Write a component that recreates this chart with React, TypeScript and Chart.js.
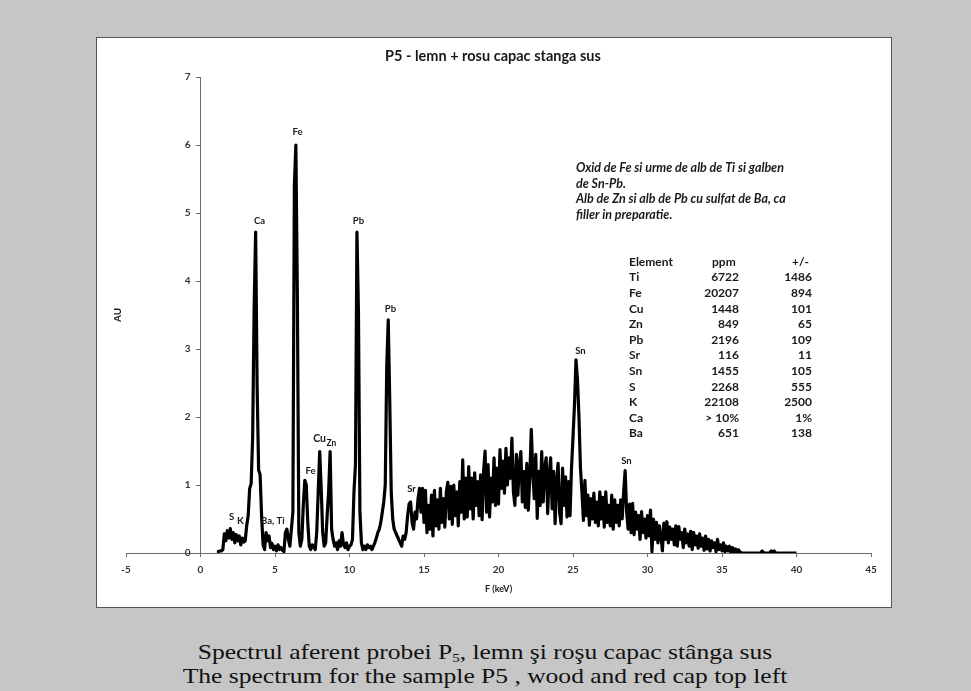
import React, { useEffect, useRef } from "react";
import { Chart, registerables } from "chart.js";

Chart.register(...registerables);

// Energy grid of the spectrum (keV): first channel and channel width
const E_START = 1.1;
const E_STEP = 0.1;

// Intensity (AU) per channel, one row per keV
const counts: number[] = [
  0.02, 0.02, 0.03, 0.03, 0.05, 0.28, 0.18, 0.33, 0.22, // 1.1-1.9
  0.36, 0.2, 0.3, 0.15, 0.27, 0.18, 0.25, 0.12, 0.22, 0.16, // 2
  0.18, 0.4, 0.55, 0.95, 1.02, 1.7, 3.6, 4.72, 2.45, 1.22, // 3
  1.15, 0.55, 0.12, 0.05, 0.3, 0.18, 0.25, 0.08, 0.14, 0.05, // 4
  0.1, 0.03, 0.12, 0.05, 0.08, 0.04, 0.02, 0.3, 0.35, 0.2, // 5
  0.1, 0.35, 0.6, 5.4, 6.0, 3.8, 0.3, 0.1, 0.2, 0.7, // 6
  1.07, 1.0, 0.45, 0.1, 0.05, 0.12, 0.1, 0.05, 0.3, 0.9, // 7
  1.49, 0.95, 0.3, 0.1, 0.15, 0.55, 0.9, 1.49, 0.35, 0.2, // 8
  0.1, 0.15, 0.05, 0.18, 0.1, 0.3, 0.12, 0.08, 0.15, 0.05, // 9
  0.1, 0.12, 0.2, 0.9, 1.3, 4.72, 3.55, 0.6, 0.15, 0.05, // 10
  0.1, 0.05, 0.12, 0.08, 0.1, 0.05, 0.1, 0.15, 0.22, 0.3, // 11
  0.35, 0.45, 0.6, 0.75, 1.0, 2.75, 3.43, 2.25, 0.9, 0.5, // 12
  0.35, 0.3, 0.25, 0.2, 0.15, 0.1, 0.25, 0.2, 0.3, 0.55, // 13
  0.72, 0.75, 0.45, 0.35, 0.6, 0.5, 0.8, 0.95, 0.6, 0.95, // 14
  0.45, 0.92, 0.3, 0.7, 0.35, 0.85, 0.25, 0.92, 0.4, 0.78, // 15
  0.35, 0.95, 0.45, 0.8, 0.38, 0.9, 1.04, 0.5, 0.98, 0.42, // 16
  1.0, 0.55, 0.9, 0.4, 1.05, 0.6, 1.37, 0.5, 1.1, 0.53, // 17
  1.27, 0.65, 1.1, 0.5, 1.18, 0.7, 1.05, 0.55, 1.15, 0.49, // 18
  1.2, 1.5, 0.6, 1.3, 0.53, 1.1, 0.75, 1.4, 0.7, 1.25, // 19
  0.72, 1.52, 0.95, 1.35, 0.88, 1.54, 1.0, 1.4, 1.1, 1.69, // 20
  0.9, 0.7, 1.45, 0.85, 1.3, 1.49, 0.75, 1.2, 0.67, 1.32, // 21
  0.63, 1.1, 1.82, 1.2, 0.8, 1.45, 0.51, 1.2, 0.7, 1.49, // 22
  0.75, 1.25, 1.4, 0.58, 1.15, 1.4, 0.65, 1.2, 0.43, 1.05, // 23
  1.32, 0.6, 0.43, 1.25, 0.7, 1.12, 0.53, 1.05, 0.55, 1.25, // 24
  1.7, 2.18, 2.84, 2.55, 2.0, 1.25, 0.9, 0.48, 1.07, 0.55, // 25
  0.85, 0.41, 0.8, 0.5, 0.88, 0.45, 0.75, 0.4, 0.9, 0.5, // 26
  0.82, 0.38, 0.9, 0.45, 0.7, 0.4, 0.85, 0.35, 0.78, 0.45, // 27
  0.7, 0.4, 0.78, 0.5, 0.9, 1.21, 0.6, 0.35, 0.72, 0.3, // 28
  0.73, 0.27, 0.6, 0.35, 0.55, 0.2, 0.61, 0.3, 0.5, 0.22, // 29
  0.55, 0.25, 0.63, 0.02, 0.5, 0.2, 0.45, 0.15, 0.4, 0.25, // 30
  0.03, 0.44, 0.2, 0.46, 0.15, 0.38, 0.2, 0.35, 0.12, 0.4, // 31
  0.1, 0.39, 0.2, 0.3, 0.08, 0.35, 0.15, 0.28, 0.1, 0.32, // 32
  0.05, 0.3, 0.12, 0.25, 0.07, 0.28, 0.1, 0.22, 0.04, 0.25, // 33
  0.06, 0.2, 0.03, 0.18, 0.08, 0.15, 0.02, 0.2, 0.05, 0.12, // 34
  0.03, 0.15, 0.02, 0.1, 0.03, 0.1, 0.01, 0.08, 0.02, 0.06, // 35
  0.01, 0.05, 0.02, 0, 0, 0, 0, 0, 0, 0, // 36
  0, 0, 0, 0, 0, 0, 0, 0.03, 0, 0, // 37
  0, 0, 0, 0.03, 0, 0.03, 0, 0, 0, 0, // 38
  0, 0, 0, 0, 0, 0, 0, 0, 0, 0, // 39
  0, // 40
];

// Axis ranges
const X_MIN = -5;
const X_MAX = 45;
const X_STEP = 5;
const Y_MIN = 0;
const Y_MAX = 7;
const Y_STEP = 1;

// Peak labels (element name, energy keV, height AU)
const peakNames = ["S", "K", "Ba, Ti", "Ca", "Fe", "Fe", "Cu", "Zn", "Pb", "Pb", "Sr", "Sn", "Sn"];
const peakKeV = [2.08, 2.68, 4.85, 3.96, 6.51, 7.38, 7.99, 8.79, 10.6, 12.75, 14.16, 25.5, 28.59];
const peakAU = [0.53, 0.48, 0.47, 4.88, 6.19, 1.21, 1.68, 1.62, 4.88, 3.59, 0.94, 2.97, 1.35];

// Table of concentrations
const tableElements = ["Ti", "Fe", "Cu", "Zn", "Pb", "Sr", "Sn", "S", "K", "Ca", "Ba"];
const tablePpm = ["6722", "20207", "1448", "849", "2196", "116", "1455", "2268", "22108", "> 10%", "651"];
const tableErr = ["1486", "894", "101", "65", "109", "11", "105", "555", "2500", "1%", "138"];

const TITLE = "P5 - lemn + rosu capac stanga sus";
const X_TITLE = "F (keV)";
const Y_TITLE = "AU";
const noteLines = [
  "Oxid de Fe si urme de alb de Ti si galben",
  "de Sn-Pb.",
  "Alb de Zn si alb de Pb cu sulfat de Ba, ca",
  "filler in preparatie.",
];

const FONT = "Lato, 'Liberation Sans', sans-serif";
const TEXT = "#1a1a1a";
const AXIS = "#6a6a6a";

const textPlugin = {
  id: "spectrumTexts",
  afterDraw(chart: any) {
    const ctx: CanvasRenderingContext2D = chart.ctx;
    const xs = chart.scales.x;
    const ys = chart.scales.y;
    ctx.save();
    ctx.fillStyle = TEXT;

    // Title
    ctx.font = `bold 14.5px ${FONT}`;
    ctx.textAlign = "center";
    ctx.textBaseline = "middle";
    ctx.fillText(TITLE, 396, 18, 224);

    // Y axis tick labels, left of the axis drawn at x = 0
    ctx.font = `bold 10px ${FONT}`;
    ctx.textAlign = "right";
    ctx.fillStyle = "#333";
    const axisX = xs.getPixelForValue(0);
    ys.ticks.forEach((t: any) => {
      ctx.fillText(String(t.value), axisX - 10, ys.getPixelForValue(t.value));
    });
    ctx.fillStyle = TEXT;

    // Y axis title
    ctx.save();
    ctx.translate(21, (ys.top + ys.bottom) / 2);
    ctx.rotate(-Math.PI / 2);
    ctx.textAlign = "center";
    ctx.font = `bold 10px ${FONT}`;
    ctx.fillText(Y_TITLE, 0, 0);
    ctx.restore();

    // Peak labels
    peakNames.forEach((name, i) => {
      let size = 9.5;
      if (name === "Cu") size = 10.5;
      if (name === "Zn") size = 8.5;
      if (name === "K") size = 10;
      ctx.font = `bold ${size}px ${FONT}`;
      ctx.textAlign = "center";
      ctx.fillText(name, xs.getPixelForValue(peakKeV[i]), ys.getPixelForValue(peakAU[i]));
    });

    // Note
    ctx.font = `italic bold 12.5px ${FONT}`;
    ctx.textAlign = "left";
    noteLines.forEach((line, i) => {
      const w = ctx.measureText(line).width;
      const maxW = i === 0 || i === 2 ? 212 : w;
      ctx.fillText(line, 479, 130 + 15.7 * i, Math.min(w, maxW));
    });

    // Table
    ctx.font = `bold 12px ${FONT}`;
    const rowY = (i: number) => 224 + 15.6 * i;
    ctx.textAlign = "left";
    ctx.fillText("Element", 532, rowY(0));
    ctx.fillText("ppm", 615, rowY(0));
    ctx.fillText("+/-", 695, rowY(0));
    tableElements.forEach((el, i) => {
      ctx.textAlign = "left";
      ctx.fillText(el, 532, rowY(i + 1));
      ctx.textAlign = "right";
      ctx.fillText(tablePpm[i], 642, rowY(i + 1));
      ctx.fillText(tableErr[i], 715, rowY(i + 1));
    });

    ctx.restore();
  },
};

function SpectrumChart() {
  const ref = useRef<HTMLCanvasElement | null>(null);
  useEffect(() => {
    if (!ref.current) return;
    const points = counts.map((v, i) => ({ x: +(E_START + i * E_STEP).toFixed(2), y: v }));
    const chart = new Chart(ref.current, {
      type: "line",
      data: {
        datasets: [
          {
            data: points,
            borderColor: "#000000",
            borderWidth: 3.2,
            borderJoinStyle: "round",
            pointRadius: 0,
            tension: 0,
            fill: false,
          },
        ],
      },
      options: {
        animation: false,
        responsive: false,
        maintainAspectRatio: false,
        events: [],
        layout: { padding: { left: 29, right: 20, top: 39, bottom: 9 } },
        plugins: {
          legend: { display: false },
          tooltip: { enabled: false },
          title: { display: false },
        },
        scales: {
          x: {
            type: "linear",
            min: X_MIN,
            max: X_MAX,
            ticks: {
              stepSize: X_STEP,
              color: "#333",
              font: { family: FONT, size: 10, weight: "bold" },
              padding: 7,
              maxRotation: 0,
            },
            grid: { drawOnChartArea: false, drawTicks: true, tickLength: 4, color: AXIS },
            border: { display: true, color: AXIS, width: 1 },
            title: {
              display: true,
              text: X_TITLE,
              color: TEXT,
              font: { family: FONT, size: 9, weight: "bold" },
              padding: { top: 4, bottom: 4 },
            },
            afterFit: (scale: any) => {
              scale.height = 45;
            },
          },
          y: {
            type: "linear",
            min: Y_MIN,
            max: Y_MAX,
            position: { x: 0 } as any,
            ticks: {
              stepSize: Y_STEP,
              display: false,
            },
            grid: { drawOnChartArea: false, drawTicks: true, tickLength: 4, color: AXIS },
            border: { display: true, color: AXIS, width: 1 },
          },
        },
      } as any,
      plugins: [textPlugin],
    });
    return () => chart.destroy();
  }, []);
  return <canvas ref={ref} width={794} height={569} style={{ display: "block" }} />;
}

export default function App() {
  return (
    <div
      style={{
        position: "fixed",
        left: 0,
        top: 0,
        width: 971,
        height: 691,
        background: "#c6c6c6",
        overflow: "hidden",
      }}
    >
      <div
        style={{
          position: "absolute",
          left: 96,
          top: 37,
          width: 794,
          height: 569,
          background: "#ffffff",
          border: "1px solid #555",
        }}
      >
        <SpectrumChart />
      </div>
      <div
        style={{
          position: "absolute",
          left: 0,
          top: 640,
          width: 970,
          textAlign: "center",
          fontFamily: "'Liberation Serif', 'Times New Roman', serif",
          fontSize: 22,
          lineHeight: "24px",
          color: "#111",
          transform: "scaleX(1.16)",
          transformOrigin: "485px 0",
        }}
      >
        Spectrul aferent probei P
        <sub style={{ fontSize: 13, verticalAlign: "-3px", lineHeight: 0 }}>5</sub>, lemn şi roşu capac stânga sus
        <br />
        The spectrum for the sample P5 , wood and red cap top left
      </div>
    </div>
  );
}
